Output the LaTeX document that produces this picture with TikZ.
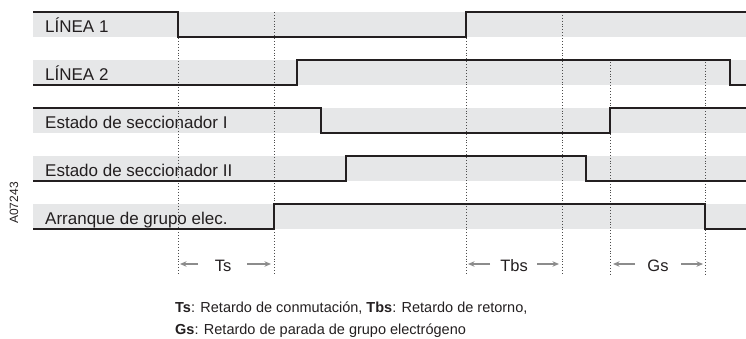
\documentclass[tikz,border=0pt]{standalone}
\usepackage{fontspec}
\setmainfont{Liberation Sans}
\usetikzlibrary{arrows.meta}
\definecolor{bandgray}{HTML}{E6E7E8}
\definecolor{sig}{HTML}{231F20}
\definecolor{arrgray}{HTML}{8C8C8C}
\begin{document}
\begin{tikzpicture}[x=1pt,y=-1pt,
  bandfill/.style={fill=bandgray, draw=none},
  signal/.style={draw=sig, line width=2pt, line join=miter},
  marker/.style={draw=black!70, line width=0.9pt, dash pattern=on 0.9pt off 2pt},
  span/.style={draw=arrgray, line width=1.1pt, -{Stealth[length=6.5pt,width=5.5pt]}},
  lbl/.style={font=\fontsize{17}{19}\selectfont, text=sig, anchor=base west, inner sep=0pt},
  spanlbl/.style={font=\fontsize{16.5}{18}\selectfont, text=sig, anchor=base, inner sep=0pt},
  captext/.style={font=\fontsize{14.5}{16}\selectfont, text=sig, anchor=base west, inner sep=0pt}]
\useasboundingbox (0,0) rectangle (746,339);
% bands
\foreach \t in {12,60,108,156,204}
  \fill[bandfill] (33,\t) rectangle (746,\t+25);
% dotted markers
\foreach \xx in {178,274,466,562}
  \draw[marker] (\xx,12) -- (\xx,275);
\foreach \xx in {610,705}
  \draw[marker] (\xx,62) -- (\xx,275);
% signals
\draw[signal] (33,12) -| (178,37) -| (466,12) -- (746,12);
\draw[signal] (33,85) -| (297,60) -| (730,85) -- (746,85);
\draw[signal] (33,108) -| (321,133) -| (610,108) -- (746,108);
\draw[signal] (33,181) -| (346,156) -| (586,181) -- (746,181);
\draw[signal] (33,229) -| (274,204) -| (705,229) -- (746,229);
% labels
\node[lbl] (l1) at (45,32.5) {LÍNEA 1};
\node[lbl] (l2) at (45,80.5) {LÍNEA 2};
\node[lbl] (l3) at (45,128.5) {Estado de seccionador I};
\node[lbl] (l4) at (45,176.5) {Estado de seccionador II};
\node[lbl] (l5) at (45,224.5) {Arranque de grupo elec.};
% spans
\node[spanlbl] (ts) at (223,271) {Ts};
\coordinate (tsa) at (198,264); \coordinate (tsb) at (180,264);
\coordinate (tsc) at (247,264); \coordinate (tsd) at (271,264);
\draw[span] (tsa) -- (tsb);
\draw[span] (tsc) -- (tsd);
\node[spanlbl] (tbs) at (514,271) {Tbs};
\coordinate (tba) at (490,264); \coordinate (tbb) at (468,264);
\coordinate (tbc) at (537,264); \coordinate (tbd) at (559,264);
\draw[span] (tba) -- (tbb);
\draw[span] (tbc) -- (tbd);
\node[spanlbl] (gs) at (658,271) {Gs};
\coordinate (gsa) at (635,264); \coordinate (gsb) at (613,264);
\coordinate (gsc) at (681,264); \coordinate (gsd) at (703,264);
\draw[span] (gsa) -- (gsb);
\draw[span] (gsc) -- (gsd);
% captions
\node[captext] (c1) at (175,312) {\textbf{Ts}: Retardo de conmutación, \textbf{Tbs}: Retardo de retorno,};
\node[captext] (c2) at (175,334.5) {\textbf{Gs}: Retardo de parada de grupo electrógeno};
% code
\node[font=\fontsize{12}{14}\selectfont, text=sig, rotate=90, inner sep=0pt] (code) at (14,203) {A07243};
\end{tikzpicture}
\end{document}
